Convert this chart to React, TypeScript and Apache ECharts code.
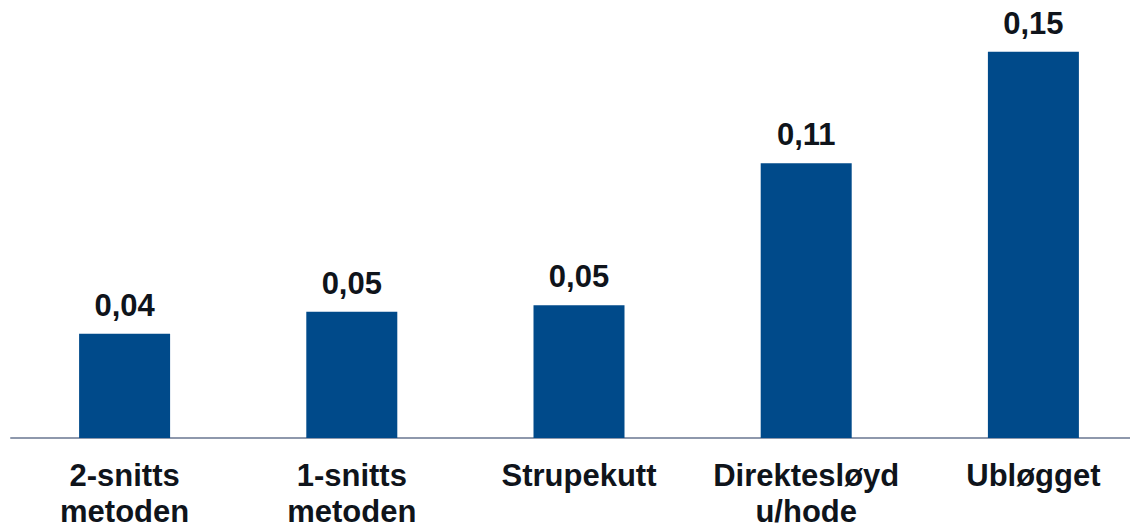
import React, { useEffect, useRef } from "react";
import * as echarts from "echarts";

const categories = ["2-snitts\nmetoden", "1-snitts\nmetoden", "Strupekutt", "Direktesløyd\nu/hode", "Ubløgget"];
const values = [0.0405, 0.049, 0.0516, 0.1067, 0.15];

export default function App() {
  const ref = useRef<HTMLDivElement>(null);
  useEffect(() => {
    if (!ref.current) return;
    const chart = echarts.init(ref.current, undefined, { renderer: "svg" });
    const font = "'Liberation Sans', Arial, Helvetica, sans-serif";
    chart.setOption({
      animation: false,
      backgroundColor: "#ffffff",
      grid: { left: 11, top: 26, width: 1136, height: 415 },
      xAxis: {
        type: "category",
        data: categories,
        axisLine: { show: true, lineStyle: { color: "#8E98AC", width: 2 } },
        axisTick: { show: false },
        axisLabel: {
          interval: 0,
          margin: 19,
          color: "#0f141b",
          fontFamily: font,
          fontWeight: "bold",
          fontSize: 31,
          lineHeight: 36,
        },
      },
      yAxis: {
        type: "value",
        min: 0,
        max: 0.16,
        show: false,
        splitLine: { show: false },
      },
      series: [
        {
          type: "bar",
          data: values,
          barWidth: 91,
          itemStyle: { color: "#004A8A" },
          label: {
            show: true,
            position: "top",
            distance: 13,
            color: "#0f141b",
            fontFamily: font,
            fontWeight: "bold",
            fontSize: 31,
            lineHeight: 31,
            formatter: (p: any) => Number(p.value).toFixed(2).replace(".", ","),
          },
        },
      ],
    });
    return () => chart.dispose();
  }, []);
  return (
    <div style={{ position: "fixed", left: 0, top: 0, width: 1130, height: 529, overflow: "hidden", background: "#fff" }}>
      <div ref={ref} style={{ width: 1160, height: 529 }} />
    </div>
  );
}
